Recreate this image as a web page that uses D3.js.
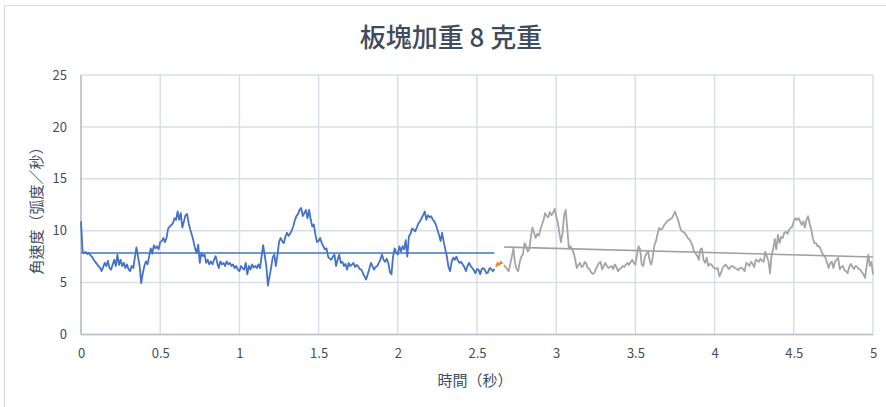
<!DOCTYPE html>
<html><head><meta charset="utf-8">
<script src="https://cdn.jsdelivr.net/npm/d3@7"></script>
<style>body{margin:0;background:#fff}svg{display:block}</style>
</head><body>
<svg id="c" width="886" height="407"></svg>
<script>
const title = "板塊加重 8 克重";
const xTitle = "時間（秒）";
const yTitle = "角速度（弧度／秒）";
const xTicks = [0,0.5,1,1.5,2,2.5,3,3.5,4,4.5,5];
const yTicks = [0,5,10,15,20,25];
const step = 0.01;
const blueStart = 0.00;
const blueValues = [
10.9,8.0,7.85,7.95,7.75,7.85,7.6,7.5,7.2,7.0,
6.8,6.6,6.45,6.1,6.5,6.9,6.6,7.1,6.4,6.25,
6.75,7.2,6.6,7.7,6.7,7.2,6.6,6.9,6.4,6.75,
6.3,6.1,6.6,6.4,7.4,8.4,7.5,6.6,4.95,5.9,
6.6,7.05,6.75,7.5,8.3,7.8,8.6,8.3,8.5,8.2,
8.9,9.0,9.3,8.9,9.3,10.2,10.4,10.55,10.7,11.2,
11.05,11.85,11.05,11.7,10.3,10.9,11.5,11.6,10.7,10.1,
9.6,9.0,8.3,7.85,8.65,6.9,7.85,7.55,7.7,6.9,
7.2,6.75,7.05,6.75,7.2,7.55,6.9,6.4,7.05,6.75,
6.9,6.6,7.05,6.75,6.9,6.6,6.75,6.4,6.6,6.25,
6.1,6.6,6.4,6.25,6.9,5.8,6.6,6.25,6.75,6.45,
6.6,6.4,6.75,6.4,7.5,8.6,7.6,6.6,4.7,5.6,
6.4,7.4,7.7,6.6,7.6,8.9,9.3,9.0,8.8,9.4,
9.8,9.5,9.7,10.0,10.4,11.0,11.4,11.6,12.0,12.2,
11.4,11.7,12.0,11.2,12.0,11.1,10.4,10.6,9.6,8.9,
9.0,9.3,8.8,8.5,8.2,8.3,7.5,7.3,7.2,7.5,
7.7,6.6,7.2,7.7,6.9,7.0,6.6,6.8,6.25,6.9,
6.6,6.74,6.9,6.5,6.7,6.55,6.3,6.25,5.9,5.6,
5.3,5.8,6.3,6.9,6.6,6.25,6.5,6.6,6.9,7.2,
7.7,7.2,7.0,7.3,6.9,6.0,5.8,7.5,8.3,7.9,
7.7,8.5,8.0,8.5,8.2,9.1,7.5,9.45,9.7,10.2,
10.1,9.94,10.3,10.7,10.9,11.2,11.5,11.85,11.05,11.5,
11.3,11.4,11.1,10.9,10.6,10.1,9.6,9.0,9.8,8.9,
8.2,7.5,6.5,6.1,7.0,7.4,7.2,7.5,7.1,6.9,
7.0,6.74,6.5,6.1,6.6,6.9,6.6,6.4,6.2,5.9,
6.3,6.25,5.8,6.3,6.4,6.2,5.9,6.0,6.4,6.3,
6.1,6.3
];
const orangeStart = 2.62;
const orangeValues = [6.5,6.9,6.7,7.0,6.8];
const grayStart = 2.67;
const grayValues = [
6.7,6.5,6.3,
6.1,6.8,7.5,8.3,6.9,6.3,6.1,7.0,7.5,7.7,
8.8,8.5,8.0,8.2,9.4,10.3,9.8,9.3,9.7,9.5,
10.1,10.6,11.0,11.7,11.4,11.3,11.8,11.5,11.7,12.1,
11.4,10.8,9.8,8.9,9.8,11.5,12.0,10.2,8.3,8.5,
8.2,7.9,7.2,6.4,6.7,6.9,6.5,6.6,7.0,6.8,
6.4,6.3,6.0,5.85,5.9,6.3,6.6,6.9,7.0,6.25,
6.6,6.9,6.6,6.4,6.5,6.6,6.3,6.74,6.5,6.1,
6.3,6.4,6.6,6.5,6.74,6.9,6.7,7.0,7.2,6.9,
6.74,7.7,8.5,8.2,6.74,6.6,7.5,7.8,8.0,7.1,
6.74,7.5,8.6,9.0,9.7,10.26,10.1,10.2,10.5,10.7,
10.9,11.05,11.1,11.2,11.5,11.85,11.4,11.0,10.4,10.0,
9.9,9.8,9.6,9.3,9.2,8.9,8.6,8.0,7.8,7.6,
7.2,8.2,8.3,7.2,6.9,7.4,6.6,6.8,6.74,6.5,
6.4,6.3,6.4,5.6,5.9,6.4,6.6,6.74,6.5,6.3,
6.5,6.6,6.5,6.4,6.3,6.2,6.4,6.45,6.3,6.1,
6.9,6.8,6.6,7.0,6.8,6.5,7.2,7.1,7.0,7.3,
7.1,7.0,7.95,7.5,7.06,5.9,7.7,8.2,9.2,8.2,
9.6,8.8,9.4,9.3,9.8,9.9,9.7,10.1,10.26,10.4,
10.9,11.2,11.05,11.2,10.9,10.57,10.9,10.3,11.05,11.4,
10.7,10.1,9.3,8.8,8.8,8.5,8.5,8.2,7.8,7.6,
7.4,6.9,6.4,6.9,7.0,6.4,7.0,7.2,7.4,6.3,
6.5,6.6,6.2,6.1,5.9,6.5,6.8,6.5,6.3,6.6,
6.5,6.3,6.25,6.0,5.8,5.46,6.6,7.7,6.6,7.0,
5.8
];
const blueTrendT = [0, 2.61];
const blueTrendV = [7.85, 7.85];
const grayTrendT = [2.67, 5.0];
const grayTrendV = [8.43, 7.47];

const svg = d3.select("#c");
const font = "'Noto Sans CJK TC','Noto Sans',sans-serif";
const textCol = "#404e5f";
const x = d3.scaleLinear().domain([0,5]).range([81,873]);
const y = d3.scaleLinear().domain([0,25]).range([334.5,75]);

svg.append("rect").attr("width",886).attr("height",407).attr("fill","#fff");
// outer chart border (top & left visible)
svg.append("line").attr("x1",4.5).attr("x2",886).attr("y1",5.5).attr("y2",5.5).attr("stroke","#d9d9d9").attr("stroke-width",1.2);
svg.append("line").attr("x1",4.5).attr("x2",4.5).attr("y1",5.5).attr("y2",407).attr("stroke","#d9d9d9").attr("stroke-width",1.2);

const g = svg.append("g");
// gridlines
g.selectAll(".vg").data(xTicks).join("line")
 .attr("x1",d=>x(d)).attr("x2",d=>x(d)).attr("y1",y(25)).attr("y2",y(0))
 .attr("stroke","#d9dee8").attr("stroke-width",1.5);
g.selectAll(".hg").data(yTicks).join("line")
 .attr("x1",x(0)).attr("x2",x(5)).attr("y1",d=>y(d)).attr("y2",d=>y(d))
 .attr("stroke","#d9dee8").attr("stroke-width",1.5);
// axes lines
g.append("line").attr("x1",x(0)).attr("x2",x(0)).attr("y1",y(25)).attr("y2",y(0)).attr("stroke","#b7bfcc").attr("stroke-width",1.5);
g.append("line").attr("x1",x(0)).attr("x2",x(5)).attr("y1",y(0)).attr("y2",y(0)).attr("stroke","#b7bfcc").attr("stroke-width",1.5);

// tick labels via axis generators
const xAxis = d3.axisBottom(x).tickValues(xTicks).tickSize(0).tickPadding(14).tickFormat(d=>String(d));
const xa = svg.append("g").attr("transform",`translate(0,${y(0)})`).call(xAxis);
xa.select(".domain").remove();
xa.selectAll("text").attr("fill",textCol).style("font-family",font).style("font-size","13px");
const yAxis = d3.axisLeft(y).tickValues(yTicks).tickSize(0).tickPadding(14).tickFormat(d=>String(d));
const ya = svg.append("g").attr("transform",`translate(${x(0)},0)`).call(yAxis);
ya.select(".domain").remove();
ya.selectAll("text").attr("fill",textCol).style("font-family",font).style("font-size","13px");

// series
const line = d3.line().x(d=>x(d[0])).y(d=>y(d[1]));
const mk = (start, vals) => vals.map((v,i)=>[+(start + i*step).toFixed(2), v]);
const series = [
  {pts: mk(blueStart, blueValues), col:"#4472c4"},
  {pts: mk(orangeStart, orangeValues), col:"#ed7d31"},
  {pts: mk(grayStart, grayValues), col:"#a5a5a5"}
];
svg.selectAll(".s").data(series).join("path")
 .attr("d",d=>line(d.pts)).attr("fill","none").attr("stroke",d=>d.col)
 .attr("stroke-width",1.8).attr("stroke-linejoin","round");
// trendlines
const trends = [
  {pts: blueTrendT.map((t,i)=>[t,blueTrendV[i]]), col:"#4472c4"},
  {pts: grayTrendT.map((t,i)=>[t,grayTrendV[i]]), col:"#a0a0a0"}
];
svg.selectAll(".t").data(trends).join("path")
 .attr("d",d=>line(d.pts)).attr("fill","none").attr("stroke",d=>d.col).attr("stroke-width",1.6);

// titles
svg.append("text").attr("x",451).attr("y",47).attr("text-anchor","middle")
 .attr("fill","#3f4c5e").style("font-family",font).style("font-size","26px").style("font-weight","500").text(title);
svg.append("text").attr("x",475).attr("y",386).attr("text-anchor","middle")
 .attr("fill",textCol).style("font-family",font).style("font-size","15px").text(xTitle);
svg.append("text").attr("transform","translate(42,207) rotate(-90)").attr("text-anchor","middle")
 .attr("fill",textCol).style("font-family",font).style("font-size","15px").text(yTitle);
</script>
</body></html>
